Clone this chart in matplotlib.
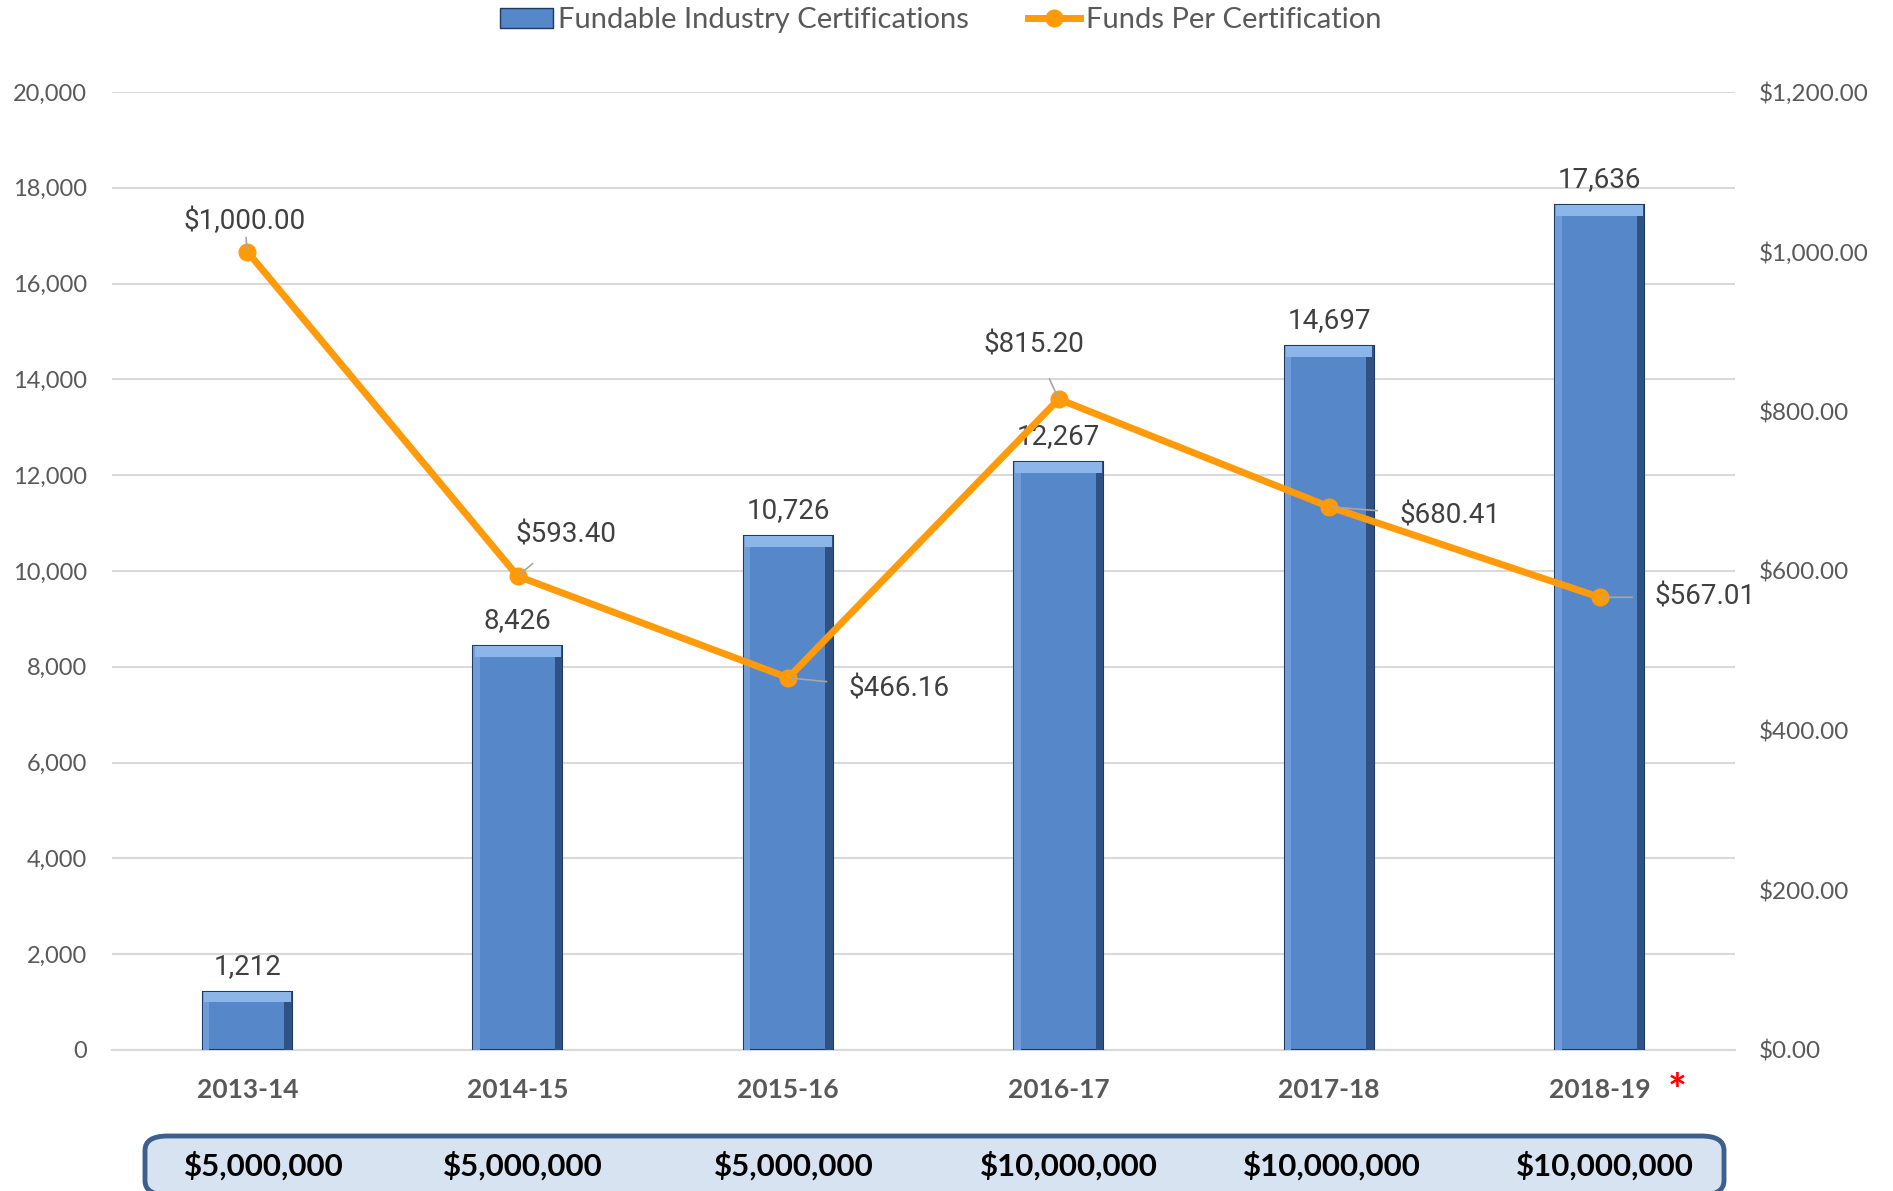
import matplotlib
matplotlib.use("Agg")
import matplotlib.pyplot as plt
from matplotlib.patches import FancyBboxPatch
from matplotlib.lines import Line2D
from matplotlib.patches import Patch
from matplotlib import font_manager as fm

years = ["2013-14", "2014-15", "2015-16", "2016-17", "2017-18", "2018-19"]
certifications = [1212, 8426, 10726, 12267, 14697, 17636]
funds_per_cert = [1000.00, 593.40, 466.16, 815.20, 680.41, 567.01]
total_funds = ["$5,000,000", "$5,000,000", "$5,000,000", "$10,000,000", "$10,000,000", "$10,000,000"]
left_ticks = list(range(0, 20001, 2000))
right_ticks = list(range(0, 1201, 200))

names = {f.name for f in fm.fontManager.ttflist}
narrow = "Liberation Sans Narrow" if "Liberation Sans Narrow" in names else "Roboto"
base = "Lato" if "Lato" in names else "DejaVu Sans"
plt.rcParams['font.family'] = [base, 'DejaVu Sans']

fig = plt.figure(figsize=(18.93, 11.91), dpi=100)
ax = fig.add_axes([0.0592, 0.1184, 0.9165 - 0.0592, 0.9228 - 0.1184])
ax2 = ax.twinx()

x = list(range(len(years)))
bar_color = "#5587C9"
bw = 0.33
ax.bar(x, certifications, width=bw, color=bar_color, edgecolor="#1F3A60", linewidth=1.5, zorder=3)
# bevel effect: light left/top strips, dark right strip
ax.bar([xi - bw / 2 + 0.012 for xi in x], certifications, width=0.024, color="#6F9CD8", linewidth=0, zorder=3.1)
ax.bar([xi + bw / 2 - 0.014 for xi in x], certifications, width=0.028, color="#2F5283", linewidth=0, zorder=3.1)
ax.bar(x, [220] * len(x), bottom=[v - 220 for v in certifications], width=bw - 0.01,
       color="#8CB5EA", linewidth=0, zorder=3.2)

ax.set_xlim(-0.5, 5.5)
ax.set_ylim(0, 20000)
ax.set_yticks(left_ticks)
ax.set_yticklabels([f"{v:,}" for v in left_ticks], fontsize=17, color="#595959")
ax.yaxis.grid(True, color="#D9D9D9", linewidth=1.5, zorder=0)
ax.set_axisbelow(True)
for s in ax.spines.values():
    s.set_visible(False)
for s in ax2.spines.values():
    s.set_visible(False)
ax.spines['bottom'].set_visible(True)
ax.spines['bottom'].set_color("#D9D9D9")
ax.spines['bottom'].set_linewidth(1.5)
ax.tick_params(axis='y', length=0, pad=18)
ax.tick_params(axis='x', length=0, pad=20)
ax.set_xticks(x)
ax.set_xticklabels(years, fontsize=19, fontweight='bold', color="#595959")

for xi, v in zip(x, certifications):
    ax.text(xi, v + 250, f"{v:,}", ha='center', va='bottom', fontsize=20,
            family=[narrow, 'DejaVu Sans'], color="#404040", zorder=5)

orange = "#FF9B0A"
ax2.plot(x, funds_per_cert, color=orange, linewidth=5, marker='o', markersize=12, zorder=4)
ax2.set_ylim(0, 1200)
ax2.set_yticks(right_ticks)
ax2.set_yticklabels([f"${v:,.2f}" for v in right_ticks], fontsize=17.5, color="#595959")
ax2.tick_params(axis='y', length=0, pad=17)

# label offsets in points (dx, dy)
offsets = [(-2, 22), (35, 30), (80, -8), (-18, 39), (87, -7), (76, 0)]
for xi, v, (dx, dy) in zip(x, funds_per_cert, offsets):
    ax2.annotate(f"${v:,.2f}", xy=(xi, v), xytext=(dx, dy), textcoords='offset points',
                 ha='center', va='center', fontsize=20, family=[narrow, 'DejaVu Sans'],
                 color="#404040", zorder=6,
                 arrowprops=dict(arrowstyle='-', color="#A6A6A6", lw=1.2, shrinkA=14, shrinkB=2))

# red asterisk
ax.annotate("*", xy=(5, 0), xytext=(56, -30), textcoords='offset points', ha='center', va='center',
            fontsize=32, fontweight='bold', color="#FF0000", annotation_clip=False)

# bottom funding box
box = FancyBboxPatch((145 / 1893, 1 - 1195 / 1191), (1724 - 145) / 1893, (1195 - 1136) / 1191,
                     boxstyle="round,pad=0,rounding_size=0.012", transform=fig.transFigure,
                     facecolor="#D7E3F1", edgecolor="#3C5F8D", linewidth=3.5, clip_on=False)
fig.patches.append(box)
box_dx = [14, 4, 5, 8, 2, 4]
for xi, t, d in zip(x, total_funds, box_dx):
    xf = ax.transData.transform((xi, 0))[0]
    xf = fig.transFigure.inverted().transform((xf + d * 1.207, 0))[0]
    fig.text(xf, 1 - 1166 / 1191, t, ha='center', va='center', fontsize=22.5, fontweight='bold', color="black")

handles = [Patch(facecolor=bar_color, edgecolor="#1F3A60"),
           Line2D([0], [0], color=orange, linewidth=5, marker='o', markersize=12)]
fig.legend(handles, ["Fundable Industry Certifications", "Funds Per Certification"],
           loc='center', bbox_to_anchor=(0.497, 1 - 20 / 1191), ncol=2, frameon=False,
           fontsize=21, labelcolor="#595959", handlelength=1.8, handletextpad=0.2, columnspacing=2.0)

fig.savefig("out.png", dpi=100)
